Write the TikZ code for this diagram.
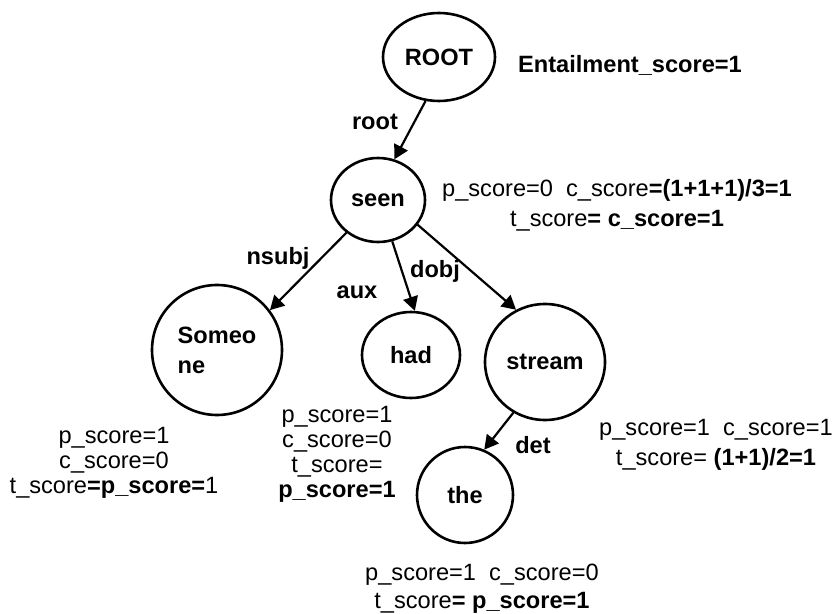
\documentclass[tikz,border=0pt]{standalone}
\usepackage{fontspec}
\setmainfont{Liberation Sans}
\usetikzlibrary{arrows.meta,shapes.geometric}
\begin{document}
\begin{tikzpicture}[x=0.5pt,y=-0.5pt,
  tnode/.style={draw,ellipse,line width=1.3pt,inner sep=0pt,font=\bfseries\fontsize{11.8}{15}\selectfont},
  edge/.style={line width=1.1pt,-{Triangle[length=7pt,width=7.5pt]}},
  elabel/.style={inner sep=0pt,font=\bfseries\fontsize{11.8}{14}\selectfont},
  note/.style={align=center,inner sep=0pt,font=\fontsize{11.8}{12.5}\selectfont},
  widenote/.style={note,font=\fontsize{11.8}{15}\selectfont},
]
\useasboundingbox (0,0) rectangle (834,614);
% tree nodes
\node[tnode,minimum width=56pt,minimum height=44pt] (root) at (439,57) {ROOT};
\node[tnode,minimum width=47pt,minimum height=42pt] (seen) at (378,200) {seen};
\node[tnode,minimum width=65pt,minimum height=65pt,align=left] (someone) at (217,350) {Someo\\ne};
\node[tnode,minimum width=49pt,minimum height=43pt] (had) at (411,355) {had};
\node[tnode,minimum width=60pt,minimum height=58pt] (stream) at (545,362) {stream};
\node[tnode,minimum width=48pt,minimum height=48pt] (the) at (465,495) {the};
% edges
\draw[edge] (root.-107) -- (seen.68);
\draw[edge] (seen.-134) -- (someone.37);
\draw[edge] (seen.-71) -- (had.85);
\draw[edge] (seen.-32) -- (stream.119);
\draw[edge] (stream.-122) -- (the.67);
% edge labels
\node[elabel] (lroot) at (375,122) {root};
\node[elabel] (lnsubj) at (278,258) {nsubj};
\node[elabel] (laux) at (357,292) {aux};
\node[elabel] (ldobj) at (435,271) {dobj};
\node[elabel] (ldet) at (533,445) {det};
% score notes
\node[elabel] (entail) at (630,65) {Entailment\_score=1};
\node[widenote] (nseen) at (617,205) {p\_score=0~~c\_score\textbf{=(1+1+1)/3=1}\\t\_score\textbf{= c\_score=1}};
\node[note] (nsomeone) at (114,463) {p\_score=1\\c\_score=0\\t\_score\textbf{=p\_score=}1};
\node[note] (nhad) at (337,454) {p\_score=1\\c\_score=0\\t\_score=\\\textbf{p\_score=1}};
\node[widenote] (nstream) at (716,445) {p\_score=1~~c\_score=1\\t\_score= \textbf{(1+1)/2=1}};
\node[note,font=\fontsize{11.8}{14}\selectfont] (nthe) at (482,589) {p\_score=1~~c\_score=0\\t\_score\textbf{= p\_score=1}};
\end{tikzpicture}
\end{document}
